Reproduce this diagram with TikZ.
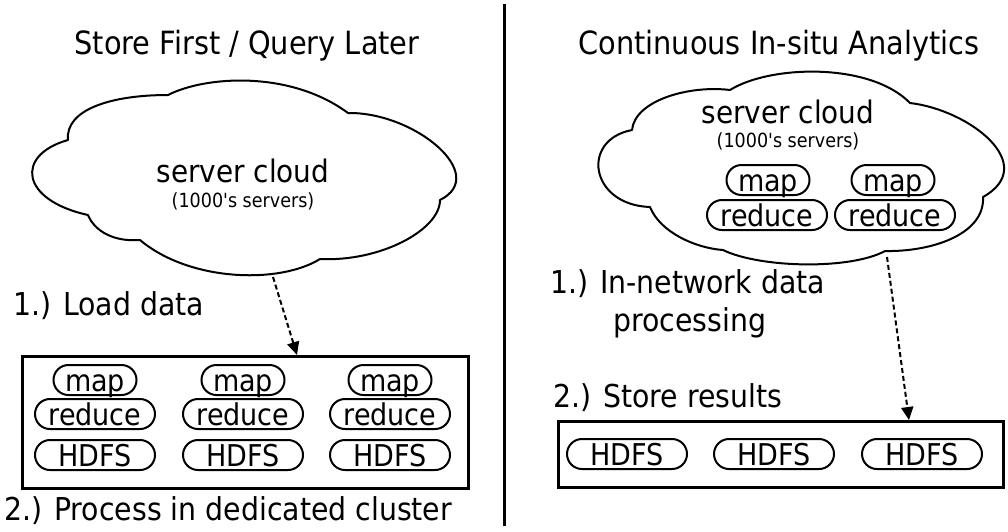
\documentclass[tikz,border=0pt]{standalone}
\usepackage{fontspec}
\setmainfont{DejaVu Sans}[FakeStretch=0.9, Ligatures=TeXOff]
\usetikzlibrary{arrows.meta}
\newcommand\fs[1]{\fontsize{#1}{#1}\selectfont}
\begin{document}
\begin{tikzpicture}[x=1pt,y=-1pt,
  heading/.style={font=\fs{32}, anchor=base, inner sep=0pt},
  steptext/.style={font=\fs{31.5}, anchor=base west, inner sep=0pt},
  cloudtext/.style={font=\fs{31}, anchor=base, inner sep=0pt},
  smalltext/.style={font=\fs{19.5}, anchor=base, inner sep=0pt},
  pill/.style={draw, line width=2pt, rounded corners=15pt, minimum height=30pt,
    inner sep=0pt, text height=22pt, text depth=0pt, font=\fs{30}},
  mappill/.style={pill, minimum width=83pt},
  widepill/.style={pill, minimum width=120pt},
  clusterbox/.style={draw, line width=3pt, inner sep=0pt},
  cloudline/.style={draw, line width=2pt, line join=round},
  flow/.style={line width=2pt, dash pattern=on 5pt off 3pt,
    -{Triangle[length=13pt,width=12pt]}},
]
\useasboundingbox (0,0) rectangle (1008,531);

% separator between the two approaches
\draw[line width=3pt] (504,4) -- (504,526);

% ---------------- left: store first / query later ----------------
\node[heading] (ltitle) at (247,54) {Store First / Query Later};

\draw[cloudline] (168,95) .. controls (205,76) and (290,70) .. (348,113)
  .. controls (415,112) and (490,175) .. (440,200)
  .. controls (440,230) and (380,262) .. (320,259)
  .. controls (280,284) and (190,282) .. (140,240)
  .. controls (115,242) and (95,232) .. (88,215)
  .. controls (20,200) and (15,155) .. (68,140)
  .. controls (65,110) and (110,95) .. cycle;
\node[cloudtext] (lcloud) at (243,182) {server cloud};
\node[smalltext] (lcount) at (243,207) {(1000's servers)};

\node[steptext] (lload) at (13,315) {1.) Load data};

\node[clusterbox, minimum width=446pt, minimum height=132pt] (lbox) at (245,422) {};
\foreach \c/\x in {1/95, 2/243, 3/390} {
  \node[mappill]  (lmap\c) at (\x,380) {map};
  \node[widepill] (lred\c) at (\x,414) {reduce};
  \node[widepill] (lfs\c)  at (\x,455) {HDFS};
}
\node[steptext] (lproc) at (4,520) {2.) Process in dedicated cluster};

\coordinate (lsrc) at (273,277);
\coordinate (ldst) at (297,355);
\draw[flow] (lsrc) -- (ldst);

% ---------------- right: continuous in-situ analytics ----------------
\node[heading] (rtitle) at (779,54) {Continuous In-situ Analytics};

\draw[cloudline] (730,90) .. controls (770,65) and (870,62) .. (910,103)
  .. controls (970,110) and (1040,165) .. (983,197)
  .. controls (985,235) and (930,252) .. (885,251)
  .. controls (850,270) and (760,268) .. (723,250)
  .. controls (695,248) and (660,232) .. (650,207)
  .. controls (590,205) and (580,140) .. (632,130)
  .. controls (635,100) and (690,85) .. cycle;
\node[cloudtext] (rcloud) at (788,123) {server cloud};
\node[smalltext] (rcount) at (788,147) {(1000's servers)};
\node[mappill]  (rmap1) at (768,180) {map};
\node[mappill]  (rmap2) at (893,180) {map};
\node[widepill] (rred1) at (767,215) {reduce};
\node[widepill] (rred2) at (895,215) {reduce};

\node[steptext] (rinnet) at (550,293) {1.) In-network data};
\node[steptext] (rproc) at (613,331) {processing};
\node[steptext] (rstore) at (553,407) {2.) Store results};

\node[clusterbox, minimum width=445pt, minimum height=66pt] (rbox) at (780.5,454) {};
\foreach \c/\x in {1/627, 2/774, 3/922} {
  \node[widepill] (rfs\c) at (\x,454) {HDFS};
}

\coordinate (rsrc) at (887,257);
\coordinate (rdst) at (909,420);
\draw[flow] (rsrc) -- (rdst);
\end{tikzpicture}
\end{document}
